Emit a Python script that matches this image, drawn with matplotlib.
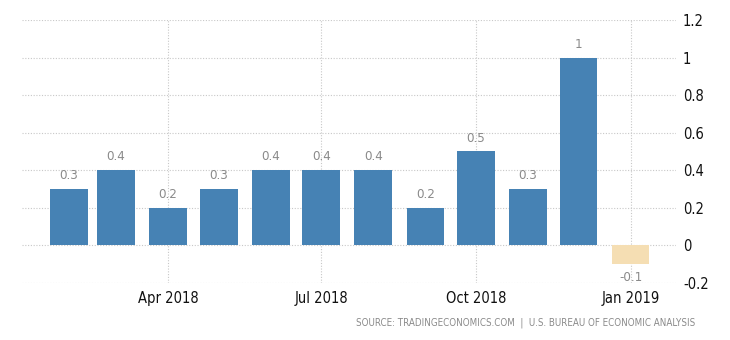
import matplotlib
matplotlib.use("Agg")
import matplotlib.pyplot as plt
import matplotlib.dates as mdates
import datetime as dt

months = ["2018-02", "2018-03", "2018-04", "2018-05", "2018-06", "2018-07",
          "2018-08", "2018-09", "2018-10", "2018-11", "2018-12", "2019-01"]
values = [0.3, 0.4, 0.2, 0.3, 0.4, 0.4, 0.4, 0.2, 0.5, 0.3, 1.0, -0.1]
tick_months = ["2018-04", "2018-07", "2018-10", "2019-01"]
tick_labels = ["Apr 2018", "Jul 2018", "Oct 2018", "Jan 2019"]
y_ticks = [-0.2, 0, 0.2, 0.4, 0.6, 0.8, 1, 1.2]
source_text = "SOURCE: TRADINGECONOMICS.COM  |  U.S. BUREAU OF ECONOMIC ANALYSIS"

plt.rcParams["font.family"] = ["DejaVu Sans"]
plt.rcParams["font.stretch"] = "condensed"

def to_date(s):
    y, m = s.split("-")
    return dt.date(int(y), int(m), 1)

dates = [to_date(m) for m in months]
xnum = mdates.date2num(dates)

fig = plt.figure(figsize=(7.3, 3.4), dpi=100)
ax = fig.add_axes([0.030, 0.168, 0.896, 0.773])

colors = ["#4682B4" if v >= 0 else "#F5DEB3" for v in values]
ax.bar(xnum, values, width=22.5, color=colors, zorder=3)

for x, v in zip(xnum, values):
    lbl = f"{v:g}"
    if v >= 0:
        ax.annotate(lbl, (x, v), xytext=(0, 5), textcoords="offset points",
                    ha="center", va="bottom", fontsize=9.5, color="#8a8a8a",
                    fontstretch="condensed")
    else:
        ax.annotate(lbl, (x, v), xytext=(0, -5), textcoords="offset points",
                    ha="center", va="top", fontsize=9.5, color="#8a8a8a",
                    fontstretch="condensed")

ax.set_xlim(mdates.date2num(dt.date(2018, 1, 4)), mdates.date2num(dt.date(2019, 1, 28)))
ax.set_ylim(-0.2, 1.2)

ax.set_xticks(mdates.date2num([to_date(m) for m in tick_months]))
ax.set_xticklabels(tick_labels, fontsize=10.5, color="#111111", fontstretch="condensed")
ax.set_yticks(y_ticks)
ax.set_yticklabels([f"{t:g}" for t in y_ticks], fontsize=10.5, color="#111111",
                   fontstretch="condensed")
ax.yaxis.tick_right()
ax.tick_params(axis="both", length=0)
ax.tick_params(axis="y", pad=5)
ax.tick_params(axis="x", pad=6)

ax.grid(True, linestyle=(0, (1, 1.5)), color="#c8c8c8", linewidth=0.8, zorder=0)
for s in ax.spines.values():
    s.set_visible(False)

fig.text(0.953, 0.035, source_text, ha="right", va="bottom",
         fontsize=7, color="#8a8a8a", fontstretch="condensed")

fig.savefig("out.png", dpi=100)
